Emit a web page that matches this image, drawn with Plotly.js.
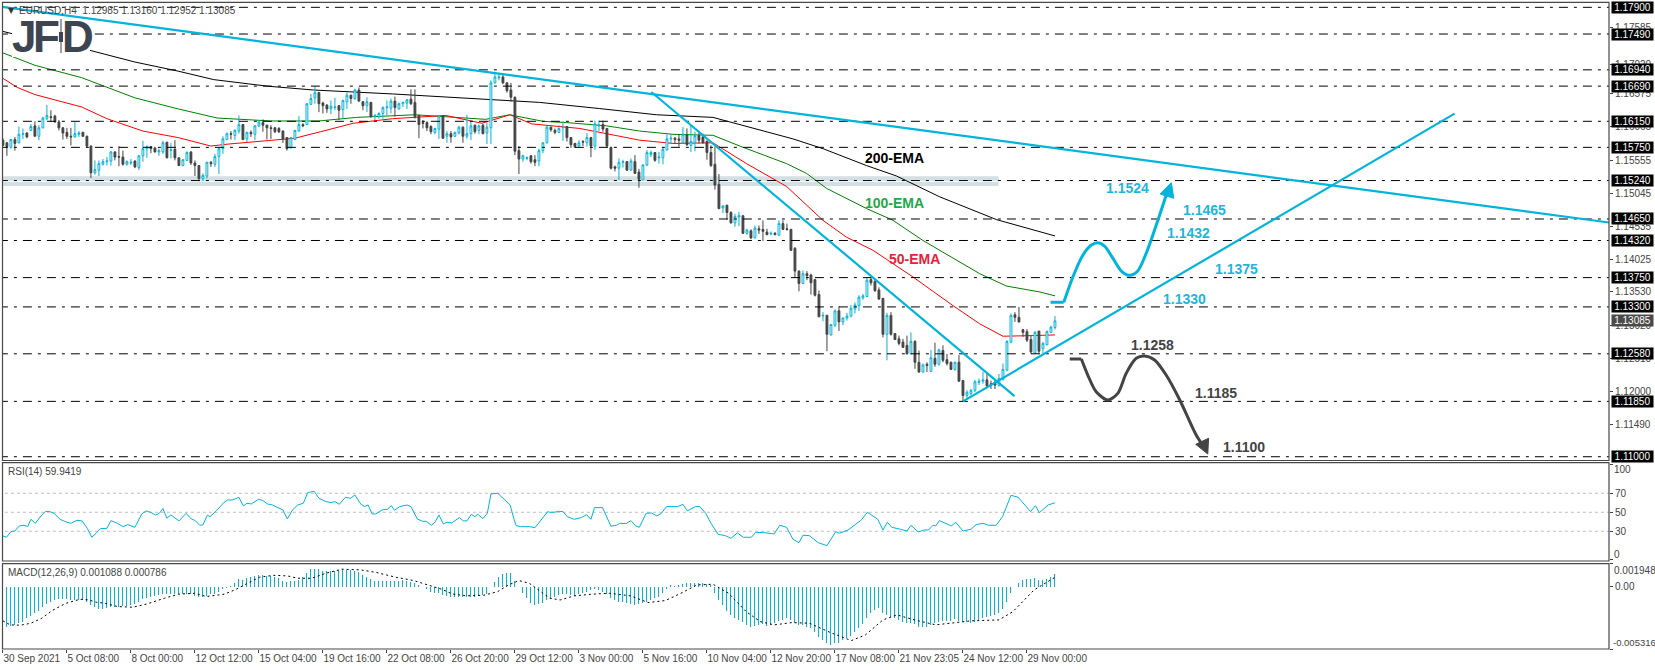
<!DOCTYPE html>
<html><head><meta charset="utf-8">
<script src="https://cdn.plot.ly/plotly-3.0.1.min.js"></script>
<style>html,body{margin:0;padding:0;background:#fff}#c{width:1655px;height:670px}</style>
</head><body><div id="c"></div>
<script>
// ---- data ----
const barCount = 264;
const priceOpen = [1.1586,1.1582,1.1575,1.1587,1.1582,1.1595,1.1597,1.1601,1.1608,1.1592,
1.1605,1.1619,1.1622,1.1623,1.1614,1.1605,1.1598,1.1592,1.1591,1.1595,
1.1598,1.1592,1.1577,1.1536,1.1540,1.1549,1.1553,1.1554,1.1568,1.1561,
1.1560,1.1549,1.1551,1.1554,1.1544,1.1562,1.1573,1.1576,1.1574,1.1568,
1.1568,1.1583,1.1570,1.1572,1.1559,1.1547,1.1555,1.1568,1.1551,1.1547,
1.1527,1.1531,1.1552,1.1549,1.1561,1.1573,1.1587,1.1596,1.1593,1.1600,
1.1610,1.1588,1.1598,1.1595,1.1608,1.1613,1.1609,1.1605,1.1605,1.1604,
1.1600,1.1590,1.1574,1.1587,1.1600,1.1610,1.1610,1.1641,1.1651,1.1659,
1.1643,1.1640,1.1634,1.1636,1.1639,1.1633,1.1645,1.1655,1.1650,1.1663,
1.1645,1.1639,1.1644,1.1622,1.1622,1.1627,1.1636,1.1635,1.1646,1.1634,
1.1642,1.1643,1.1649,1.1644,1.1624,1.1613,1.1613,1.1607,1.1598,1.1603,
1.1623,1.1592,1.1596,1.1592,1.1597,1.1606,1.1592,1.1596,1.1609,1.1601,
1.1609,1.1597,1.1605,1.1674,1.1682,1.1683,1.1674,1.1663,1.1652,1.1570,
1.1557,1.1558,1.1562,1.1556,1.1554,1.1570,1.1582,1.1606,1.1601,1.1598,
1.1605,1.1607,1.1590,1.1581,1.1577,1.1584,1.1582,1.1590,1.1577,1.1608,
1.1610,1.1604,1.1575,1.1545,1.1543,1.1552,1.1553,1.1540,1.1553,1.1537,
1.1525,1.1548,1.1564,1.1567,1.1559,1.1559,1.1571,1.1588,1.1589,1.1588,
1.1582,1.1594,1.1578,1.1582,1.1593,1.1591,1.1584,1.1567,1.1549,1.1518,
1.1482,1.1486,1.1475,1.1459,1.1468,1.1470,1.1443,1.1447,1.1436,1.1450,
1.1449,1.1445,1.1442,1.1443,1.1440,1.1458,1.1450,1.1449,1.1420,1.1385,
1.1366,1.1381,1.1379,1.1372,1.1349,1.1316,1.1317,1.1287,1.1302,1.1324,
1.1307,1.1313,1.1316,1.1327,1.1332,1.1344,1.1346,1.1372,1.1369,1.1356,
1.1343,1.1288,1.1317,1.1289,1.1281,1.1276,1.1271,1.1258,1.1277,1.1245,
1.1230,1.1242,1.1231,1.1251,1.1242,1.1263,1.1249,1.1245,1.1234,1.1245,
1.1217,1.1194,1.1197,1.1202,1.1214,1.1216,1.1218,1.1212,1.1214,1.1209,
1.1219,1.1233,1.1276,1.1318,1.1314,1.1295,1.1292,1.1280,1.1259,1.1293,
1.1266,1.1272,1.1291,1.12985];
const priceHigh = [1.1589,1.1583,1.1588,1.1591,1.1607,1.1604,1.1598,1.1611,1.1615,1.1609,
1.1622,1.1640,1.1632,1.1625,1.1617,1.1606,1.1605,1.1605,1.1614,1.1600,
1.1599,1.1593,1.1578,1.1555,1.1555,1.1557,1.1560,1.1569,1.1569,1.1577,
1.1570,1.1555,1.1557,1.1555,1.1563,1.1585,1.1578,1.1577,1.1576,1.1573,
1.1585,1.1583,1.1582,1.1586,1.1559,1.1557,1.1569,1.1569,1.1555,1.1548,
1.1535,1.1553,1.1554,1.1565,1.1574,1.1592,1.1598,1.1600,1.1603,1.1624,
1.1611,1.1599,1.1601,1.1609,1.1617,1.1618,1.1610,1.1609,1.1606,1.1606,
1.1601,1.1590,1.1591,1.1602,1.1623,1.1612,1.1643,1.1657,1.1669,1.1660,
1.1645,1.1641,1.1647,1.1651,1.1640,1.1648,1.1659,1.1656,1.1665,1.1667,
1.1646,1.1652,1.1645,1.1626,1.1629,1.1638,1.1647,1.1650,1.1653,1.1644,
1.1645,1.1649,1.1664,1.1664,1.1625,1.1617,1.1615,1.1609,1.1605,1.1624,
1.1624,1.1600,1.1600,1.1599,1.1608,1.1607,1.1625,1.1615,1.1610,1.1610,
1.1611,1.1613,1.1678,1.1691,1.1688,1.1688,1.1675,1.1674,1.1653,1.1577,
1.1564,1.1561,1.1563,1.1563,1.1573,1.1583,1.1608,1.1607,1.1604,1.1609,
1.1615,1.1607,1.1591,1.1582,1.1586,1.1586,1.1597,1.1591,1.1616,1.1616,
1.1616,1.1604,1.1576,1.1547,1.1558,1.1556,1.1554,1.1558,1.1563,1.1542,
1.1549,1.1571,1.1570,1.1568,1.1568,1.1575,1.1595,1.1595,1.1591,1.1595,
1.1606,1.1604,1.1609,1.1599,1.1599,1.1596,1.1586,1.1578,1.1576,1.1534,
1.1486,1.1487,1.1477,1.1473,1.1476,1.1471,1.1450,1.1449,1.1455,1.1455,
1.1463,1.1450,1.1446,1.1445,1.1463,1.1463,1.1458,1.1450,1.1422,1.1386,
1.1386,1.1385,1.1381,1.1373,1.1355,1.1322,1.1318,1.1303,1.1326,1.1331,
1.1314,1.1321,1.1333,1.1337,1.1348,1.1350,1.1375,1.1376,1.1373,1.1360,
1.1344,1.1321,1.1322,1.1290,1.1286,1.1281,1.1286,1.1291,1.1279,1.1263,
1.1243,1.1245,1.1264,1.1275,1.1266,1.1271,1.1258,1.1246,1.1246,1.1256,
1.1218,1.1202,1.1204,1.1218,1.1220,1.1230,1.1227,1.1217,1.1217,1.1227,
1.1243,1.1279,1.1320,1.1322,1.1330,1.1296,1.1296,1.1286,1.1293,1.1293,
1.1276,1.1294,1.1301,1.13160];
const priceLow = [1.1577,1.1562,1.1573,1.1570,1.1581,1.1588,1.1589,1.1600,1.1592,1.1586,
1.1604,1.1617,1.1614,1.1613,1.1601,1.1587,1.1588,1.1578,1.1590,1.1591,
1.1591,1.1574,1.1528,1.1533,1.1531,1.1547,1.1547,1.1547,1.1555,1.1546,
1.1547,1.1547,1.1548,1.1543,1.1540,1.1553,1.1559,1.1566,1.1567,1.1562,
1.1565,1.1558,1.1558,1.1555,1.1547,1.1546,1.1554,1.1548,1.1531,1.1523,
1.1523,1.1527,1.1545,1.1545,1.1534,1.1565,1.1586,1.1587,1.1586,1.1596,
1.1586,1.1583,1.1591,1.1586,1.1606,1.1599,1.1587,1.1588,1.1597,1.1597,
1.1582,1.1570,1.1574,1.1586,1.1599,1.1606,1.1609,1.1640,1.1642,1.1629,
1.1627,1.1628,1.1626,1.1632,1.1617,1.1619,1.1634,1.1642,1.1648,1.1645,
1.1632,1.1629,1.1621,1.1617,1.1619,1.1619,1.1624,1.1627,1.1622,1.1633,
1.1637,1.1634,1.1640,1.1619,1.1589,1.1604,1.1600,1.1595,1.1595,1.1588,
1.1588,1.1582,1.1582,1.1591,1.1595,1.1582,1.1588,1.1586,1.1596,1.1595,
1.1595,1.1580,1.1580,1.1673,1.1678,1.1672,1.1659,1.1645,1.1563,1.1534,
1.1553,1.1555,1.1550,1.1546,1.1546,1.1566,1.1581,1.1599,1.1595,1.1597,
1.1585,1.1584,1.1574,1.1574,1.1575,1.1577,1.1576,1.1560,1.1571,1.1600,
1.1599,1.1575,1.1541,1.1538,1.1525,1.1544,1.1539,1.1539,1.1534,1.1513,
1.1525,1.1546,1.1560,1.1553,1.1550,1.1549,1.1570,1.1581,1.1581,1.1576,
1.1581,1.1577,1.1568,1.1569,1.1581,1.1581,1.1556,1.1545,1.1510,1.1480,
1.1474,1.1464,1.1458,1.1453,1.1454,1.1442,1.1441,1.1434,1.1435,1.1442,
1.1431,1.1440,1.1440,1.1440,1.1440,1.1448,1.1447,1.1416,1.1375,1.1354,
1.1365,1.1371,1.1349,1.1346,1.1314,1.1308,1.1262,1.1286,1.1299,1.1293,
1.1302,1.1309,1.1314,1.1320,1.1324,1.1341,1.1345,1.1363,1.1353,1.1341,
1.1283,1.1248,1.1286,1.1279,1.1271,1.1267,1.1257,1.1257,1.1235,1.1229,
1.1229,1.1230,1.1230,1.1238,1.1240,1.1245,1.1240,1.1233,1.1232,1.1215,
1.1185,1.1189,1.1194,1.1199,1.1210,1.1212,1.1207,1.1204,1.1204,1.1208,
1.1217,1.1231,1.1274,1.1307,1.1306,1.1284,1.1276,1.1258,1.1258,1.1258,
1.1258,1.1271,1.1290,1.12952];
const priceClose = [1.1578,1.1576,1.1587,1.1581,1.1595,1.1596,1.1591,1.1607,1.1592,1.1605,
1.1620,1.1624,1.1621,1.1614,1.1605,1.1597,1.1592,1.1591,1.1596,1.1597,
1.1592,1.1577,1.1536,1.1541,1.1550,1.1553,1.1554,1.1568,1.1560,1.1560,
1.1549,1.1553,1.1552,1.1545,1.1562,1.1573,1.1576,1.1573,1.1568,1.1570,
1.1582,1.1559,1.1571,1.1559,1.1547,1.1556,1.1567,1.1551,1.1547,1.1527,
1.1532,1.1552,1.1550,1.1561,1.1573,1.1588,1.1596,1.1595,1.1601,1.1610,
1.1587,1.1598,1.1596,1.1608,1.1614,1.1609,1.1605,1.1604,1.1599,1.1599,
1.1588,1.1573,1.1590,1.1601,1.1610,1.1608,1.1642,1.1650,1.1659,1.1642,
1.1639,1.1634,1.1638,1.1637,1.1632,1.1647,1.1655,1.1650,1.1663,1.1646,
1.1639,1.1645,1.1622,1.1624,1.1627,1.1636,1.1637,1.1646,1.1636,1.1642,
1.1644,1.1648,1.1642,1.1622,1.1610,1.1612,1.1605,1.1599,1.1604,1.1623,
1.1589,1.1596,1.1591,1.1598,1.1606,1.1592,1.1596,1.1608,1.1599,1.1608,
1.1596,1.1606,1.1674,1.1683,1.1683,1.1674,1.1662,1.1652,1.1569,1.1557,
1.1562,1.1559,1.1553,1.1552,1.1570,1.1582,1.1606,1.1602,1.1598,1.1604,
1.1606,1.1590,1.1579,1.1576,1.1582,1.1583,1.1590,1.1577,1.1611,1.1609,
1.1603,1.1577,1.1543,1.1543,1.1552,1.1553,1.1540,1.1554,1.1535,1.1526,
1.1548,1.1567,1.1567,1.1555,1.1560,1.1572,1.1588,1.1589,1.1587,1.1586,
1.1595,1.1579,1.1584,1.1593,1.1586,1.1582,1.1567,1.1547,1.1517,1.1481,
1.1485,1.1475,1.1459,1.1469,1.1470,1.1443,1.1448,1.1436,1.1451,1.1448,
1.1446,1.1441,1.1443,1.1441,1.1458,1.1449,1.1449,1.1417,1.1385,1.1366,
1.1381,1.1378,1.1367,1.1348,1.1315,1.1317,1.1288,1.1303,1.1324,1.1307,
1.1313,1.1316,1.1328,1.1333,1.1345,1.1347,1.1371,1.1367,1.1355,1.1342,
1.1288,1.1317,1.1288,1.1280,1.1274,1.1268,1.1258,1.1277,1.1245,1.1230,
1.1241,1.1240,1.1252,1.1242,1.1264,1.1248,1.1243,1.1234,1.1245,1.1216,
1.1194,1.1199,1.1202,1.1215,1.1216,1.1218,1.1209,1.1211,1.1210,1.1220,
1.1234,1.1277,1.1317,1.1314,1.1307,1.1291,1.1279,1.1261,1.1291,1.1262,
1.1274,1.1292,1.1299,1.13085];

const ema200X = [0,2,21.7,33,43.8,52.7,66,77.7,97.4,115,134.2,149.2,163.4,177.5,187.5,197.5,205,215.9,223.4,234.2,248.4,259.2,263];
const ema200Y = [1.1753,1.1750,1.1724,1.1706,1.1692,1.1679,1.1669,1.1663,1.1657,1.1651,1.1644,1.16345,1.1625,1.1621,1.1604,1.1588,1.1573,1.1547,1.1531,1.1499,1.1464,1.1445,1.1439];
const ema100X = [0,8,19.7,33,43.8,53.6,67,79,88.4,103,120.7,126.7,135,140.9,150.9,159.2,167.5,177.5,184.2,195.9,200.9,205.9,215.9,222.5,230,238.4,244.2,250.9,259.2,263];
const ema100Y = [1.1720,1.1701,1.1682,1.1651,1.1634,1.1620,1.16155,1.16155,1.1621,1.1625,1.1618,1.1625,1.1615,1.1613,1.1608,1.1600,1.1595,1.15935,1.1577,1.1550,1.1535,1.1512,1.1481,1.1463,1.1432,1.1402,1.1381,1.1362,1.1353,1.1347];
const ema50X = [0,3.6,8,19.7,26,35,43.8,52,56.3,61.7,73,79.4,87.6,97.4,110.7,119.7,126.8,132.2,139.2,144.2,159.2,167.5,177.5,185.9,195.9,205,210.9,217.5,227.5,237.5,244.2,250,257.5,263];
const ema50Y = [1.1681,1.1667,1.1656,1.1637,1.1619,1.1600,1.1590,1.1577,1.1580,1.1583,1.1589,1.1599,1.1612,1.1619,1.1624,1.1612,1.1625,1.1611,1.1607,1.1604,1.1586,1.1581,1.1582,1.1550,1.1515,1.1463,1.1437,1.1417,1.1376,1.1332,1.1304,1.1285,1.1286,1.1287];

const levelPrices = [1.179,1.1749,1.1694,1.1669,1.1615,1.1575,1.1524,1.1465,1.1432,1.1375,1.133,1.1258,1.1185,1.11];
const levelLabels = ['1.17900','1.17490','1.16940','1.16690','1.16150','1.15750','1.15240','1.14650','1.14320','1.13750','1.13300','1.12580','1.11850','1.11000'];
const lastPrice = 1.13085;
const lastLabel = '1.13085';
const priceTicks = [1.17585,1.1702,1.16575,1.16065,1.15555,1.15045,1.14535,1.14025,1.1353,1.1302,1.1251,1.12,1.1149];
const priceTickText = ['1.17585','1.17020','1.16575','1.16065','1.15555','1.15045','1.14535','1.14025','1.13530','1.13020','1.12510','1.12000','1.11490'];
const bandLow = 1.15155, bandHigh = 1.15305, bandEndBar = 248.9;

const trendLongX = [-5,401.5], trendLongY = [1.17946,1.14596];
const trendDownX = [162.1,252.9], trendDownY = [1.1660,1.1193];
const trendUpX = [240,362.9], trendUpY = [1.1185,1.16267];
const bullFlatX = [261.9,265.2], bullFlatY = [1.13371,1.13371];
const bullPathX = [265.2,267.5,270,272.1,273.7,275.4,277.5,279.6,281.7,283.7,285.8,287.9,290,290.9];
const bullPathY = [1.13371,1.13764,1.14097,1.1425,1.14286,1.14235,1.14046,1.13851,1.13785,1.13851,1.14123,1.14481,1.14865,1.15033];
const bullHeadX = [289.3,292.7,292.1,289.3], bullHeadY = [1.15033,1.14967,1.15207,1.15033];
const bearFlatX = [266.7,269.6], bearFlatY = [1.125,1.125];
const bearPathX = [269.6,271.2,273.3,276.2,278.7,280.8,283.3,285.4,287.9,290.8,294.2,298.3,299.9];
const bearPathY = [1.125,1.12254,1.11998,1.11871,1.11973,1.1228,1.12511,1.12546,1.12485,1.12254,1.11871,1.11333,1.1118];
const bearHeadX = [298.2,301.4,301.2,298.2], bearHeadY = [1.1119,1.11283,1.11041,1.1119];

const rsiX = [0,0.9,2,3,4.1,5.3,6.2,7,8.1,9.5,10.6,11.6,12.8,14.3,15.8,17,18.5,19.8,21.1,22.2,23.3,24.4,26,27,28.6,30,31.2,33,34.7,35.8,36.9,38.2,39.1,40,41,42,44,45.8,47,48.1,49.2,50,51.1,51.8,53.4,55.3,56.2,57.5,59,60.1,61,62.1,63.9,65,66.1,67.4,68.5,70,71.1,72.4,73.7,75.1,76.2,77.8,79,80.8,82.1,83,84.1,85.6,86.9,88,89.5,90.4,91.3,92.3,93.2,94.8,96.1,97.1,97.9,99.2,101,102,103.6,104.9,105.8,107.2,108.1,109,110.1,111,112.2,114.1,115.1,116,117.1,118,118.7,120,121.1,122,123.7,125.5,126.8,127.7,128.3,129.4,131.6,133,134.3,136.2,
136.7,137.8,138.9,140,141.1,142.8,144.6,145.9,147,147.9,149.9,152,153.4,154.2,155.8,157,158.2,159.1,160.8,162.1,163.5,164.6,165.9,168.7,170,171.1,173.1,174.2,175.7,177,178.8,180.6,182,183.6,185.1,187.1,188.2,190.2,192.8,194.2,195.9,197.5,199,200,201.6,203.8,206,208.2,209.1,211.3,214.6,216.1,218.7,220,221.1,222.2,224.4,226,227,228.8,230.4,231.4,232.5,233.2,234.1,236.3,237.1,238.2,240,242,243.3,245,246.4,248.3,249.9,252,253.8,256.9,258.1,259.1,261.3,263];
const rsiY = [25.1,23.7,29.6,30.3,35.6,36.3,34.9,42.6,38.4,46.1,50.7,51,48.9,42.6,39.8,38.4,41.6,40.9,33.1,23.7,27.9,32.8,33.1,41.2,38.4,34.9,37,34.2,48.2,51.4,50,47.2,48.9,53.9,43.7,47.2,40.9,48.9,43.3,41.2,36.3,36.7,46.8,45.4,51.7,60.5,63,63,65.8,56.7,59.5,58.8,63.7,62.3,58.8,57.7,55.3,52.5,43,52.5,57.7,59.5,70.7,72.1,64.7,61.2,60.2,61.2,58.4,65.8,64.7,68.2,58.4,56,57.7,48.2,48.2,52.5,53.2,57,52.1,56,57.7,56,43,40.5,40.5,36.3,40.2,47.2,37.7,39.5,38.8,44.4,40.9,40.9,47.9,45.4,47.9,43.3,48.9,69.3,70,63,57.7,43.7,36,34.9,34.9,33.8,41.2,50.7,
50,50,51,50.7,45.4,42.6,44.4,47.5,42.6,54.9,54.9,35.3,36.3,38.4,38.1,41.2,35.6,34.2,48.9,49.3,46.1,48.9,56,56,58.4,51.4,56,56,48.9,38.4,26.8,25.4,22.6,28.2,23.7,23.7,28.9,28.6,27.2,36.3,34.2,21.6,18,25.8,25.4,18,14.9,29.6,27.9,31.4,41.9,50,42.6,31.4,39.5,34.2,32.1,30.3,36.3,29.3,31.4,31.4,36.3,35.6,41.2,37,35.6,39.5,30.3,32.1,37,38.4,36.3,36.3,45.4,67.9,65.8,50.7,57,49.6,57.7,59.94];
const rsiLevels = [70,50,30];

const macdHist = [-346,-341,-332,-326,-312,-298,-270,-247,-227,-204,-170,-148,-128,-114,-105,-105,-105,-114,-114,-114,-114,-128,-156,-176,-187,-190,-182,-176,-176,-170,
-165,-165,-156,-148,-128,-108,-99,-85,-77,-71,-65,-65,-62,-60,-62,-60,-60,-65,-77,-91,-91,-79,-65,-65,-43,-17,-9,6,34,62,
57,71,85,91,99,99,94,91,85,71,51,43,48,51,57,85,119,148,148,148,136,136,136,136,142,142,142,142,136,122,
99,85,65,51,51,51,51,51,51,51,57,51,37,28,14,0,-23,-45,-51,-51,-71,-77,-85,-85,-91,-85,-91,-91,-85,-79,
-74,-65,0,43,79,108,114,116,51,0,-51,-99,-142,-156,-148,-142,-114,-99,-85,-71,-62,-62,-74,-77,-65,-51,-43,-28,-23,-28,
-43,-62,-99,-114,-128,-133,-136,-148,-159,-148,-142,-128,-114,-99,-85,-51,-23,14,6,14,23,28,34,28,34,34,23,14,-57,-114,
-156,-204,-241,-264,-284,-304,-326,-341,-335,-326,-321,-332,-326,-312,-289,-284,-270,-284,-312,-326,-326,-341,-355,-383,-426,-454,-477,-497,-477,-477,
-454,-440,-420,-383,-355,-318,-270,-227,-199,-184,-227,-241,-255,-270,-284,-298,-307,-312,-321,-341,-341,-346,-326,-312,-298,-289,-289,-292,-275,-292,
-304,-304,-307,-298,-284,-270,-255,-250,-241,-227,-193,-128,-57,-6,28,57,62,65,71,57,57,65,79,108.8];
const macdScale = 1e-5; // the histogram above is written in units of 0.00001
const signalX = [0,1.8,4.4,7,9.7,12.3,15.8,19.3,21.5,23.3,25.5,28.6,32.5,36,40.4,43.9,47.9,50.9,55.3,58,61.5,64.1,67.6,71.1,73.7,77.2,80.8,84.7,89.5,93.5,98.3,102.7,106.2,109.7,112.3,115.8,120.2,123.7,126.4,129,131.6,134.3,136.7,139.3,142.8,147.2,151.6,156.9,161.3,165.6,169.2,173.5,177.5,181.4,185.8,189.3,192.8,197.2,201.6,206.9,212.1,215.6,220,223.5,227.9,233.2,237.6,242,249,252.5,257.8,263];
const signalY = [-292,-326,-329,-312,-270,-204,-142,-108,-114,-133,-142,-170,-176,-148,-99,-65,-57,-85,-65,-28,34,79,96,91,71,71,114,148,142,119,79,51,14,-23,-62,-79,-74,-43,14,51,28,-43,-99,-114,-79,-65,-57,-79,-136,-119,-62,14,20,-57,-213,-298,-326,-307,-312,-392,-460,-412,-284,-241,-284,-326,-312,-292,-284,-213,-28,78.6];

const timeTickBars = [0,16,32,48,64,80,96,112,128,144,160,176,192,208,224,240,256];
const timeTickLabels = ['30 Sep 2021','5 Oct 08:00','8 Oct 00:00','12 Oct 12:00','15 Oct 04:00','19 Oct 16:00','22 Oct 08:00','26 Oct 20:00','29 Oct 12:00','3 Nov 00:00','5 Nov 16:00','10 Nov 04:00','12 Nov 20:00','17 Nov 08:00','21 Nov 23:05','24 Nov 12:00','29 Nov 00:00'];

const emaNames = ['200-EMA','100-EMA','50-EMA'];
const emaNameBars = [215.1,215.1,220.9];
const emaNamePrices = [1.15591,1.149,1.14035];
const targetBlue = ['1.1524','1.1465','1.1432','1.1375','1.1330'];
const targetBlueBars = [275.3,294.5,290.5,302.6,289.5];
const targetBluePrices = [1.15121,1.14788,1.14439,1.13882,1.13421];
const targetDark = ['1.1258','1.1185','1.1100'];
const targetDarkBars = [281.4,297.6,304.6];
const targetDarkPrices = [1.12715,1.11978,1.11149];

// ---- page geometry and styles ----
const W = 1655, H = 670;
const px = v => v / W, py = v => 1 - v / H;
const LEFT = 2.5, RIGHT = 1609;
const P1 = [2.3, 460.5], P2 = [462.7, 561], P3 = [563.7, 649];
const BLUE = '#00b4dc', DARK = '#444444', LOGO = '#3d4550', FONT = 'Liberation Sans, Arial, sans-serif';
const bars = Array.from({length: barCount}, (_, i) => i);
const priceRange = [1.10942, 1.17977];
const rsiRange = [-1.3, 102.2];
const macdRange = [-0.005316, 0.001948];

const levelX = [], levelY = [];
levelPrices.forEach(p => { levelX.push(-1, 402, null); levelY.push(p, p, null); });
const rsiLevelX = [], rsiLevelY = [];
rsiLevels.forEach(p => { rsiLevelX.push(-1, 402, null); rsiLevelY.push(p, p, null); });

const line = (x, y, color, width, yaxis, extra) => Object.assign({type:'scatter', mode:'lines', x, y, yaxis, xaxis:'x',
  line:{color, width, ...(extra||{})}, hoverinfo:'skip', showlegend:false});

const traces = [
  line(ema200X, ema200Y, '#000000', 1, 'y'),
  line(ema100X, ema100Y, '#008000', 1, 'y'),
  line(ema50X, ema50Y, '#ff0000', 1, 'y'),
  {type:'candlestick', x:bars, open:priceOpen, high:priceHigh, low:priceLow, close:priceClose, xaxis:'x', yaxis:'y4',
   increasing:{line:{color:BLUE, width:1}, fillcolor:'#ffffff'},
   decreasing:{line:{color:DARK, width:1}, fillcolor:DARK},
   whiskerwidth:0, hoverinfo:'skip', showlegend:false},
  line(levelX, levelY, '#000000', 1, 'y5', {dash:'9px,6px,3px,6px'}),
  line(trendLongX, trendLongY, BLUE, 2.2, 'y5'),
  line(trendDownX, trendDownY, BLUE, 2.2, 'y5'),
  line(trendUpX, trendUpY, BLUE, 2.2, 'y5'),
  line(bullFlatX, bullFlatY, BLUE, 3, 'y5'),
  line(bullPathX, bullPathY, BLUE, 3, 'y5', {shape:'spline', smoothing:0.8}),
  Object.assign(line(bullHeadX, bullHeadY, BLUE, 1, 'y5'), {fill:'toself', fillcolor:BLUE}),
  line(bearFlatX, bearFlatY, DARK, 3, 'y5'),
  line(bearPathX, bearPathY, DARK, 3, 'y5', {shape:'spline', smoothing:0.8}),
  Object.assign(line(bearHeadX, bearHeadY, DARK, 1, 'y5'), {fill:'toself', fillcolor:DARK}),
  line(rsiLevelX, rsiLevelY, '#bdbdbd', 1, 'y2', {dash:'3px,3px'}),
  line(rsiX, rsiY, BLUE, 1, 'y2'),
  {type:'bar', x:bars, y:macdHist.map(v => v * macdScale), xaxis:'x', yaxis:'y3', width:0.25, marker:{color:BLUE, line:{width:0}}, hoverinfo:'skip', showlegend:false},
  line(signalX, signalY.map(v => v * macdScale), '#000000', 1, 'y3', {dash:'2px,3px'})
];

const annText = (text, x, y, opts) => Object.assign({text, x, y, xref:'x', yref:'y', xanchor:'left', yanchor:'middle', showarrow:false}, opts);
const bold = (color) => ({font:{family:FONT, size:14, color, weight:700}});
const small = {font:{family:FONT, size:10, color:'#444444'}};
const annotations = [];
emaNames.forEach((t, i) => annotations.push(annText('<b>'+t+'</b>', emaNameBars[i], emaNamePrices[i], bold(['#000000','#22a84a','#e8203a'][i]))));
targetBlue.forEach((t, i) => annotations.push(annText('<b>'+t+'</b>', targetBlueBars[i], targetBluePrices[i], bold('#1fb5dc'))));
targetDark.forEach((t, i) => annotations.push(annText('<b>'+t+'</b>', targetDarkBars[i], targetDarkPrices[i], bold('#444444'))));
levelPrices.forEach((p, i) => annotations.push({text:levelLabels[i], x:px(1611), xref:'paper', y:p, yref:'y', xanchor:'left', yanchor:'middle', showarrow:false,
  width:41, height:11, bgcolor:'#000000', borderpad:0, font:{family:FONT, size:10, color:'#ffffff'}}));
annotations.push({text:lastLabel, x:px(1611), xref:'paper', y:lastPrice, yref:'y', xanchor:'left', yanchor:'middle', showarrow:false,
  width:41, height:11, bgcolor:'#4a4a4a', borderpad:0, font:{family:FONT, size:10, color:'#ffffff'}});
const paperText = (text, x, y, opts) => Object.assign({text, x:px(x), y:py(y), xref:'paper', yref:'paper', xanchor:'left', yanchor:'middle', showarrow:false}, opts);
annotations.push(paperText('▼', 6, 10, {font:{family:'DejaVu Sans', size:8, color:'#333333'}}));
annotations.push(paperText('EURUSD,H4&nbsp;&nbsp;1.12985 1.13160 1.12952 1.13085', 17, 10, small));
annotations.push(paperText('RSI(14) 59.9419', 6, 471, small));
annotations.push(paperText('MACD(12,26,9) 0.001088 0.000786', 6, 572, small));
annotations.push(paperText('100', 1612, 469.5, small));
annotations.push(paperText('0', 1612, 554.5, small));
annotations.push(paperText('0.001948', 1612, 570, small));
annotations.push(paperText('-0.005316', 1611, 642.7, {font:{family:FONT, size:9.5, color:'#444444'}}));
const logoFont = {family:FONT, size:44, color:LOGO, weight:700};
annotations.push(paperText('<b>J</b>', 10, 36, {font:logoFont}));
annotations.push(paperText('<b>F</b>', 31, 36, {font:logoFont}));
annotations.push(paperText('<b>D</b>', 60, 36, {font:logoFont}));

const frame = (top, bottom) => ({type:'rect', xref:'paper', yref:'paper', x0:px(LEFT), x1:px(RIGHT), y0:py(top), y1:py(bottom), line:{color:'#484848', width:1.2}, layer:'above'});
const shapes = [
  {type:'rect', xref:'x', yref:'y', x0:-1, x1:bandEndBar, y0:bandLow, y1:bandHigh, fillcolor:'#d3dfe2', line:{width:0}, layer:'below'},
  {type:'line', xref:'x', yref:'y', x0:-1, x1:bandEndBar, y0:1.15228, y1:1.15228, line:{color:'#ffffff', width:1}, layer:'below'},
  {type:'rect', xref:'paper', yref:'paper', x0:px(12), x1:px(90), y0:py(57), y1:py(22), fillcolor:'#ffffff', line:{width:0}, layer:'above'},
  {type:'line', xref:'paper', yref:'paper', x0:px(61), x1:px(61), y0:py(53), y1:py(19), line:{color:LOGO, width:1}, layer:'above'},
  {type:'rect', xref:'paper', yref:'paper', x0:px(59), x1:px(63), y0:py(42), y1:py(32), fillcolor:LOGO, line:{width:0}, layer:'above'},
  frame(P1[0], P1[1]), frame(P2[0], P2[1]), frame(P3[0], P3[1])
];

const tickFont = {family:FONT, size:10, color:'#444444'};
const layout = {
  width:W, height:H, margin:{l:0, r:0, t:0, b:0}, paper_bgcolor:'#ffffff', plot_bgcolor:'#ffffff', showlegend:false, bargap:0, boxgap:0.35,
  xaxis:{domain:[px(LEFT), px(RIGHT)], range:[-0.1, 401.5], anchor:'y3', tickmode:'array', tickvals:timeTickBars, ticktext:timeTickLabels, tickangle:0,
    ticks:'outside', ticklen:3, tickwidth:1, tickcolor:'#444444', tickfont:tickFont, ticklabelposition:'outside right', showgrid:false, zeroline:false, showline:false, rangeslider:{visible:false}},
  yaxis:{domain:[py(P1[1]), py(P1[0])], range:priceRange, side:'right', anchor:'x', tickmode:'array', tickvals:priceTicks, ticktext:priceTickText,
    ticks:'outside', ticklen:3, tickcolor:'#444444', tickfont:tickFont, showgrid:false, zeroline:false, showline:false},
  yaxis2:{domain:[py(P2[1]), py(P2[0])], range:rsiRange, side:'right', anchor:'x', tickmode:'array', tickvals:[100,70,50,30,0], ticktext:['','70','50','30',''],
    ticks:'outside', ticklen:3, tickcolor:'#444444', tickfont:tickFont, showgrid:false, zeroline:false, showline:false},
  yaxis3:{domain:[py(P3[1]), py(P3[0])], range:macdRange, side:'right', anchor:'x', tickmode:'array', tickvals:[0.001948,0,-0.005316], ticktext:['','0.00',''],
    ticks:'outside', ticklen:3, tickcolor:'#444444', tickfont:tickFont, showgrid:false, zeroline:false, showline:false},
  yaxis4:{overlaying:'y', range:priceRange, side:'right', anchor:'x', visible:false},
  yaxis5:{overlaying:'y', range:priceRange, side:'right', anchor:'x', visible:false},
  annotations, shapes
};
Plotly.newPlot('c', traces, layout, {staticPlot:true, displayModeBar:false});
</script></body></html>
